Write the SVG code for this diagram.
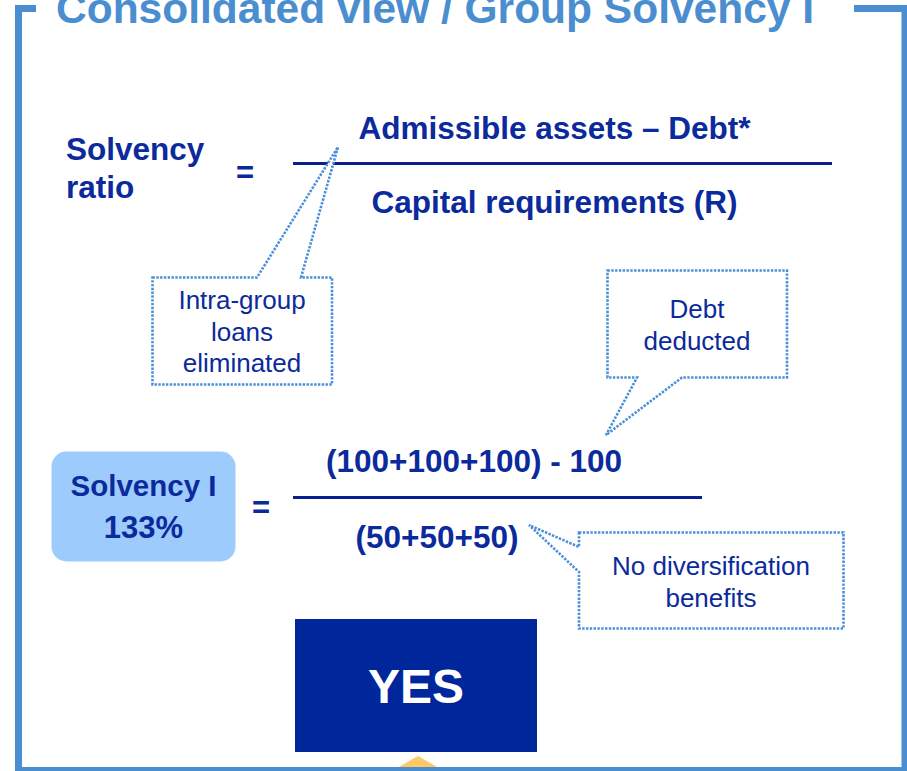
<svg xmlns="http://www.w3.org/2000/svg" width="907" height="771" viewBox="0 0 907 771">
  <style>
    .b { font-family: "Liberation Sans", Arial, sans-serif; font-weight: bold; fill: #0b2a9c; }
    .r { font-family: "Liberation Sans", Arial, sans-serif; fill: #0b2a9c; font-size: 26px; }
    .call { fill: #ffffff; stroke: #4a90d9; stroke-width: 2.6; stroke-dasharray: 2.4 1.4; }
    .frac { stroke: #0a1f8f; stroke-width: 3; }
  </style>
  <rect width="907" height="771" fill="#ffffff"/>

  <g id="frame">
    <polygon points="418,756 390,772 446,772" fill="#ffc966"/>
    <path d="M 36 8.5 H 18.5 V 770.5 H 905 V 8.5 H 854" fill="none" stroke="#4a8ed0" stroke-width="7"/>
    <text x="56" y="23" class="b" font-size="42.5" style="fill:#4a8ed0">Consolidated view / Group Solvency I</text>
  </g>

  <g id="connectors">
    <line class="frac" x1="293" y1="163.5" x2="832" y2="163.5"/>
    <line class="frac" x1="293" y1="497.5" x2="702" y2="497.5"/>
  </g>

  <g id="solvency-ratio">
    <text class="b" font-size="31.5" x="66" y="160">Solvency</text>
    <text class="b" font-size="31.5" x="66" y="198">ratio</text>
    <text class="b" font-size="31" x="245" y="183" text-anchor="middle">=</text>
  </g>

  <g id="formula">
    <text class="b" font-size="31.5" x="554.5" y="139" text-anchor="middle">Admissible assets – Debt*</text>
    <text class="b" font-size="31.5" x="554.5" y="213" text-anchor="middle">Capital requirements (R)</text>
  </g>

  <g id="callout-intragroup">
    <path class="call" d="M 152.5 277.5 H 257 L 338 147 L 301 277.5 H 332 V 384.5 H 152.5 Z"/>
    <text class="r" x="242" y="309" text-anchor="middle">Intra-group</text>
    <text class="r" x="242" y="341" text-anchor="middle">loans</text>
    <text class="r" x="242" y="372" text-anchor="middle">eliminated</text>
  </g>

  <g id="callout-debt">
    <path class="call" d="M 607.5 270.5 H 787 V 377.5 H 682 L 606 435 L 637 377.5 H 607.5 Z"/>
    <text class="r" x="697" y="318" text-anchor="middle">Debt</text>
    <text class="r" x="697" y="350" text-anchor="middle">deducted</text>
  </g>

  <g id="solvency-i">
    <rect x="51.5" y="451.5" width="184" height="110" rx="15" fill="#9dcbfb"/>
    <text class="b" font-size="29.5" x="143.5" y="496" text-anchor="middle">Solvency I</text>
    <text class="b" font-size="31" x="143.5" y="538" text-anchor="middle">133%</text>
    <text class="b" font-size="31" x="261" y="518" text-anchor="middle">=</text>
  </g>

  <g id="calculation">
    <text class="b" font-size="31.5" x="474" y="472" text-anchor="middle">(100+100+100) - 100</text>
    <text class="b" font-size="31.5" x="437" y="548" text-anchor="middle">(50+50+50)</text>
  </g>

  <g id="callout-diversification">
    <path class="call" d="M 579 532.5 H 843.5 V 628.5 H 579 V 572 L 529 525 L 579 547 Z"/>
    <text class="r" x="711" y="575" text-anchor="middle">No diversification</text>
    <text class="r" x="711" y="607" text-anchor="middle">benefits</text>
  </g>

  <g id="yes">
    <rect x="295" y="619" width="242" height="133" fill="#00269c"/>
    <text x="416" y="703" text-anchor="middle" font-family="Liberation Sans, Arial, sans-serif" font-weight="bold" font-size="48" fill="#ffffff">YES</text>
  </g>
</svg>
